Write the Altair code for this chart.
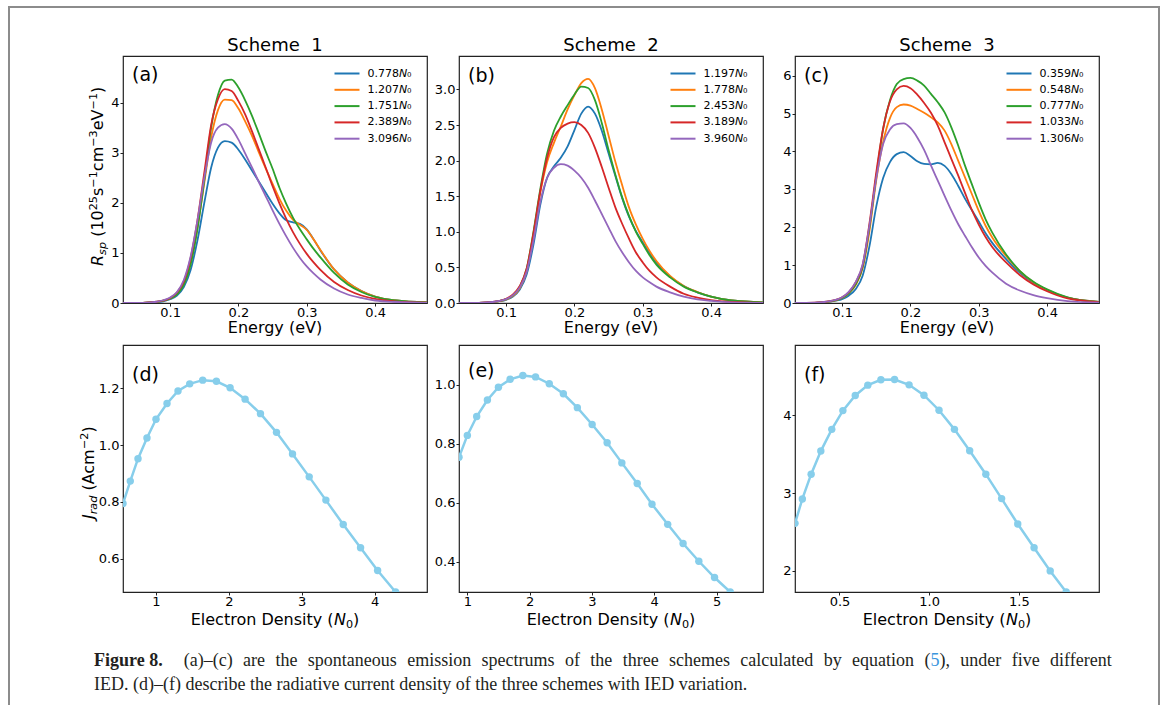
import altair as alt
import pandas as pd

FONT = "DejaVu Sans"
SERIF = "Liberation Serif"
COLORS = ["#1f77b4", "#ff7f0e", "#2ca02c", "#d62728", "#9467bd"]
SKY = "#87CEEB"
INK = "#000000"
FRAME = "#8c8c8c"
CAP_INK = "#231f20"
LINK = "#3a96dd"
W, H = 304, 247
NB = "\u00a0"

# ---------------- data: spontaneous emission spectra (a)-(c) ----------------
energy = [0.031, 0.06, 0.08, 0.09, 0.10, 0.11, 0.12, 0.13, 0.14, 0.15, 0.16, 0.17,
          0.18, 0.19, 0.20, 0.21, 0.22, 0.23, 0.24, 0.25, 0.26, 0.27, 0.28, 0.29,
          0.30, 0.31, 0.32, 0.34, 0.36, 0.38, 0.40, 0.43, 0.476]

a_labels = ["0.778", "1.207", "1.751", "2.389", "3.096"]
a_blue = [0, 0.003, 0.015, 0.035, 0.075, 0.15, 0.32, 0.66, 1.25, 2.0, 2.7, 3.1, 3.23, 3.2, 3.06, 2.86, 2.64, 2.42, 2.2, 1.98, 1.79, 1.65, 1.61, 1.58, 1.47, 1.27, 1.05, 0.67, 0.41, 0.24, 0.13, 0.05, 0.01]
a_orange = [0, 0.003, 0.02, 0.045, 0.09, 0.18, 0.38, 0.8, 1.5, 2.4, 3.3, 3.85, 4.06, 4.05, 3.88, 3.62, 3.33, 3.0, 2.68, 2.38, 2.08, 1.84, 1.66, 1.56, 1.46, 1.27, 1.06, 0.67, 0.41, 0.24, 0.13, 0.05, 0.01]
a_green = [0, 0.003, 0.02, 0.045, 0.09, 0.17, 0.36, 0.77, 1.48, 2.45, 3.5, 4.15, 4.44, 4.46, 4.3, 4.04, 3.73, 3.38, 3.02, 2.68, 2.3, 1.98, 1.7, 1.47, 1.27, 1.08, 0.91, 0.6, 0.37, 0.22, 0.12, 0.05, 0.01]
a_red = [0, 0.004, 0.025, 0.05, 0.1, 0.21, 0.43, 0.9, 1.65, 2.6, 3.55, 4.07, 4.27, 4.23, 4.03, 3.76, 3.42, 3.06, 2.7, 2.33, 1.99, 1.68, 1.41, 1.18, 0.98, 0.81, 0.66, 0.42, 0.26, 0.15, 0.08, 0.03, 0.005]
a_purple = [0, 0.004, 0.025, 0.055, 0.11, 0.22, 0.46, 0.93, 1.65, 2.5, 3.2, 3.5, 3.57, 3.48, 3.26, 2.98, 2.7, 2.41, 2.13, 1.85, 1.58, 1.33, 1.1, 0.9, 0.73, 0.59, 0.47, 0.29, 0.17, 0.1, 0.05, 0.02, 0.003]

b_labels = ["1.197", "1.778", "2.453", "3.189", "3.960"]
b_blue = [0, 0.002, 0.012, 0.025, 0.045, 0.09, 0.19, 0.4, 0.82, 1.38, 1.76, 1.92, 2.04, 2.2, 2.43, 2.66, 2.76, 2.66, 2.42, 2.1, 1.78, 1.47, 1.21, 1.01, 0.85, 0.7, 0.57, 0.37, 0.24, 0.15, 0.09, 0.035, 0.008]
b_orange = [0, 0.002, 0.012, 0.025, 0.05, 0.1, 0.21, 0.45, 0.95, 1.55, 1.98, 2.25, 2.48, 2.72, 2.92, 3.09, 3.15, 3.02, 2.72, 2.35, 1.98, 1.65, 1.34, 1.1, 0.9, 0.73, 0.59, 0.38, 0.24, 0.155, 0.09, 0.035, 0.008]
b_green = [0, 0.002, 0.013, 0.028, 0.055, 0.11, 0.23, 0.48, 1.0, 1.6, 2.1, 2.42, 2.62, 2.78, 2.93, 3.04, 3.02, 2.85, 2.53, 2.15, 1.8, 1.48, 1.22, 1.0, 0.83, 0.67, 0.54, 0.36, 0.23, 0.15, 0.09, 0.035, 0.008]
b_red = [0, 0.002, 0.014, 0.03, 0.06, 0.12, 0.24, 0.48, 0.98, 1.57, 2.04, 2.33, 2.46, 2.52, 2.54, 2.5, 2.39, 2.18, 1.91, 1.62, 1.34, 1.11, 0.9, 0.71, 0.57, 0.45, 0.36, 0.23, 0.13, 0.075, 0.04, 0.015, 0.003]
b_purple = [0, 0.002, 0.014, 0.03, 0.055, 0.11, 0.22, 0.44, 0.88, 1.42, 1.76, 1.9, 1.95, 1.93, 1.86, 1.76, 1.62, 1.44, 1.25, 1.06, 0.87, 0.71, 0.57, 0.45, 0.36, 0.29, 0.23, 0.15, 0.09, 0.05, 0.03, 0.01, 0.002]

c_labels = ["0.359", "0.548", "0.777", "1.033", "1.306"]
c_blue = [0, 0.005, 0.03, 0.06, 0.1, 0.2, 0.37, 0.72, 1.5, 2.55, 3.3, 3.72, 3.93, 3.98, 3.88, 3.74, 3.67, 3.66, 3.7, 3.62, 3.4, 3.09, 2.75, 2.45, 2.15, 1.84, 1.58, 1.16, 0.8, 0.53, 0.34, 0.14, 0.03]
c_orange = [0, 0.005, 0.035, 0.07, 0.13, 0.26, 0.48, 0.92, 1.9, 3.25, 4.25, 4.88, 5.17, 5.24, 5.21, 5.12, 5.02, 4.9, 4.77, 4.55, 4.19, 3.75, 3.31, 2.87, 2.43, 2.04, 1.72, 1.24, 0.84, 0.55, 0.35, 0.14, 0.03]
c_green = [0, 0.005, 0.035, 0.07, 0.13, 0.26, 0.5, 0.95, 2.0, 3.35, 4.6, 5.35, 5.78, 5.91, 5.94, 5.87, 5.74, 5.52, 5.3, 5.03, 4.63, 4.15, 3.62, 3.13, 2.65, 2.21, 1.85, 1.28, 0.85, 0.56, 0.36, 0.15, 0.03]
c_red = [0, 0.006, 0.04, 0.08, 0.15, 0.29, 0.55, 1.0, 2.1, 3.45, 4.6, 5.32, 5.64, 5.73, 5.67, 5.5, 5.28, 5.02, 4.68, 4.24, 3.8, 3.36, 2.9, 2.45, 2.07, 1.74, 1.47, 1.07, 0.74, 0.49, 0.31, 0.12, 0.025]
c_purple = [0, 0.006, 0.04, 0.08, 0.15, 0.3, 0.56, 1.02, 2.05, 3.3, 4.2, 4.58, 4.72, 4.74, 4.62, 4.37, 4.04, 3.63, 3.23, 2.83, 2.44, 2.08, 1.77, 1.47, 1.2, 0.98, 0.8, 0.51, 0.33, 0.21, 0.13, 0.05, 0.01]

# ---------------- data: radiative current density (d)-(f) ----------------
d_density = [0.547, 0.647, 0.753, 0.876, 1.0, 1.151, 1.302, 1.463, 1.641, 1.829, 2.017, 2.223, 2.434, 2.654, 2.874, 3.103, 3.332, 3.570, 3.808, 4.042, 4.289]
d_jrad = [0.794, 0.873, 0.952, 1.025, 1.091, 1.147, 1.191, 1.216, 1.229, 1.225, 1.202, 1.162, 1.111, 1.045, 0.969, 0.888, 0.806, 0.720, 0.638, 0.558, 0.482]
e_density = [0.866, 1.0, 1.150, 1.322, 1.499, 1.687, 1.891, 2.095, 2.315, 2.541, 2.766, 3.003, 3.244, 3.480, 3.727, 3.964, 4.216, 4.463, 4.716, 4.968, 5.220]
e_jrad = [0.754, 0.828, 0.892, 0.948, 0.991, 1.018, 1.031, 1.026, 1.003, 0.969, 0.922, 0.865, 0.803, 0.735, 0.665, 0.595, 0.527, 0.462, 0.402, 0.347, 0.298]
f_density = [0.252, 0.293, 0.342, 0.396, 0.457, 0.519, 0.588, 0.658, 0.731, 0.807, 0.888, 0.971, 1.055, 1.141, 1.226, 1.316, 1.404, 1.494, 1.585, 1.675, 1.764]
f_jrad = [2.611, 2.925, 3.243, 3.540, 3.819, 4.060, 4.254, 4.387, 4.456, 4.460, 4.391, 4.258, 4.065, 3.819, 3.544, 3.243, 2.929, 2.602, 2.297, 2.0, 1.729]

# ---------------- text metrics (em widths) for hand-placed rich text ----------------
DV = {" ": .318, "(": .390, ")": .390, "−": .838, "A": .684, "D": .770, "E": .632,
      "J": .295, "N": .748, "R": .695, "V": .684, "a": .613, "c": .550, "d": .635,
      "e": .615, "i": .278, "l": .278, "m": .974, "n": .634, "o": .612, "p": .635,
      "r": .411, "s": .521, "t": .392, "y": .592}
for ch in "0123456789":
    DV[ch] = .636

TR = {" ": .250, "(": .333, ")": .333, ",": .250, ".": .250, "–": .500,
      "a": .444, "b": .500, "c": .444, "d": .500, "e": .444, "f": .333, "g": .500,
      "h": .500, "i": .278, "l": .278, "m": .778, "n": .500, "o": .500, "p": .500,
      "q": .500, "r": .333, "s": .389, "t": .278, "u": .500, "v": .500, "w": .722,
      "y": .500, "D": .722, "E": .611, "F": .556, "I": .333}
for ch in "0123456789":
    TR[ch] = .500
TB = dict(TR)
TB.update({"F": .611, "u": .556, "r": .444})


def width(s, size, table):
    return sum(table.get(ch, 0.55) for ch in s) * size


ONE = pd.DataFrame({"k": [0]})


def text_layer(s, x, y, size, font=FONT, align="left", baseline="alphabetic",
               angle=0, style="normal", weight="normal", color=INK):
    props = dict(text=s, fontSize=size, font=font, align=align, baseline=baseline,
                 fontStyle=style, fontWeight=weight, color=color)
    if angle:
        props["angle"] = angle
    return alt.Chart(ONE).mark_text(**props).encode(x=alt.value(x), y=alt.value(y))


def rotated_pieces(pieces, x0, y0):
    out, y = [], y0
    for s, size, style, shift in pieces:
        lead = len(s) - len(s.lstrip(" "))
        y -= lead * DV[" "] * size
        s = s.lstrip(" ")
        out.append(text_layer(s, x0 + shift, y, size, style=style, angle=270))
        y -= width(s, size, DV)
    return out


def centered_pieces(pieces, xc, y0):
    total = sum(width(s, size, DV) for s, size, _, _ in pieces)
    out, x = [], xc - total / 2
    for s, size, style, shift in pieces:
        out.append(text_layer(s, x, y0 + shift, size, style=style))
        x += width(s, size, DV)
    return out


def rule_layer(x, x2, y, y2):
    return alt.Chart(ONE).mark_rule(color=FRAME, strokeWidth=2).encode(
        x=alt.value(x), x2=alt.value(x2), y=alt.value(y), y2=alt.value(y2))


SUB = 11.2


def x_axis(values, fmt):
    return alt.Axis(values=values, format=fmt, title=None, labelPadding=10,
                    labelBaseline="alphabetic")


def y_axis(values, fmt):
    return alt.Axis(values=values, format=fmt, title=None, labelPadding=1)


# ---------------- panels ----------------
def spectrum_panel(labels, series, ydom, yvals, yfmt, tag, tag_y):
    names = [lab + "\U0001D615\u2080" for lab in labels]
    rows = []
    for name, vals in zip(names, series):
        for e, v in zip(energy, vals):
            rows.append({"E": e, "R": v, "series": name})
    df = pd.DataFrame(rows)
    lines = alt.Chart(df).mark_line(strokeWidth=1.8, clip=True, interpolate="monotone").encode(
        x=alt.X("E:Q", scale=alt.Scale(domain=[0.031, 0.476], nice=False, zero=False),
                axis=x_axis([0.1, 0.2, 0.3, 0.4], ".1f")),
        y=alt.Y("R:Q", scale=alt.Scale(domain=ydom, nice=False, zero=False),
                axis=y_axis(yvals, yfmt)),
        color=alt.Color("series:N", sort=names,
                        scale=alt.Scale(domain=names, range=COLORS),
                        legend=alt.Legend(orient="none", legendX=218, legendY=11.5, title=None,
                                          symbolType="M-2.5,0H2.5", symbolSize=100,
                                          symbolStrokeWidth=2, labelFont=FONT, labelFontSize=11,
                                          labelOffset=14.5, rowPadding=5.3, padding=0,
                                          labelColor=INK, labelLimit=300)),
    )
    return [lines,
            text_layer(tag, 9, tag_y, 19, baseline="middle"),
            text_layer("Energy (eV)", W / 2, 277, 16, align="center")]


def jrad_panel(xs, ys, xdom, ydom, xvals, yvals, xfmt, yfmt, tag, tag_y):
    df = pd.DataFrame({"N": xs, "J": ys})
    base = alt.Chart(df).encode(
        x=alt.X("N:Q", scale=alt.Scale(domain=xdom, nice=False, zero=False),
                axis=x_axis(xvals, xfmt)),
        y=alt.Y("J:Q", scale=alt.Scale(domain=ydom, nice=False, zero=False),
                axis=y_axis(yvals, yfmt)),
    )
    line = base.mark_line(color=SKY, strokeWidth=2.5, clip=True)
    pts = base.mark_circle(color=SKY, size=55, opacity=1, clip=True)
    xt = centered_pieces([("Electron Density (", 16, "normal", 0), ("N", 16, "italic", 0),
                          ("0", SUB, "normal", 3), (")", 16, "normal", 0)], W / 2, 280)
    return [line, pts, text_layer(tag, 9, tag_y, 19, baseline="middle")] + xt


def make_title(t):
    return alt.TitleParams(t, font=FONT, fontSize=18, fontWeight="normal", color=INK,
                           anchor="middle", offset=4.5, baseline="alphabetic", dy=17)


# (a)
la = spectrum_panel(a_labels, [a_blue, a_orange, a_green, a_red, a_purple],
                    [0, 4.93], [0, 1, 2, 3, 4], "d", "(a)", 18.5)
la += rotated_pieces([("R", 16, "italic", 0), ("sp", SUB, "italic", 3),
                      (" (10", 16, "normal", 0), ("25", SUB, "normal", -6),
                      ("s", 16, "normal", 0), ("−1", SUB, "normal", -6),
                      ("cm", 16, "normal", 0), ("−3", SUB, "normal", -6),
                      ("eV", 16, "normal", 0), ("−1", SUB, "normal", -6),
                      (")", 16, "normal", 0)], -20, 210)
panel_a = alt.layer(*la).properties(width=W, height=H, title=make_title("Scheme" + NB + NB + "1"))

lb = spectrum_panel(b_labels, [b_blue, b_orange, b_green, b_red, b_purple],
                    [0, 3.47], [0, 0.5, 1.0, 1.5, 2.0, 2.5, 3.0], ".1f", "(b)", 20)
panel_b = alt.layer(*lb).properties(width=W, height=H, title=make_title("Scheme" + NB + NB + "2"))

lc = spectrum_panel(c_labels, [c_blue, c_orange, c_green, c_red, c_purple],
                    [0, 6.52], [0, 1, 2, 3, 4, 5, 6], "d", "(c)", 20)
panel_c = alt.layer(*lc).properties(width=W, height=H, title=make_title("Scheme" + NB + NB + "3"))

# (d) -- also carries the figure frame and caption (decoration, pixels relative to (d))
ld = jrad_panel(d_density, d_jrad, [0.547, 4.72], [0.482, 1.353], [1, 2, 3, 4],
                [0.6, 0.8, 1.0, 1.2], "d", ".1f", "(d)", 30)
ld += rotated_pieces([("J", 16, "italic", 0), ("rad", SUB, "italic", 3),
                      (" (Acm", 16, "normal", 0), ("−2", SUB, "normal", -6),
                      (")", 16, "normal", 0)], -29, 174)

ld += [rule_layer(-114, -114, -338, 360), rule_layer(1036, 1036, -338, 360),
       rule_layer(-115, 1037, -338, -338)]

CAP_X0, CAP_X1, CAP_Y1, CAP_Y2, CAP_SIZE = -29, 989, 321, 345, 18
line1 = [[("Figure 8.", "bold", CAP_INK)], [("(a)–(c)", "normal", CAP_INK)],
         [("are", "normal", CAP_INK)], [("the", "normal", CAP_INK)],
         [("spontaneous", "normal", CAP_INK)], [("emission", "normal", CAP_INK)],
         [("spectrums", "normal", CAP_INK)], [("of", "normal", CAP_INK)],
         [("the", "normal", CAP_INK)], [("three", "normal", CAP_INK)],
         [("schemes", "normal", CAP_INK)], [("calculated", "normal", CAP_INK)],
         [("by", "normal", CAP_INK)], [("equation", "normal", CAP_INK)],
         [("(", "normal", CAP_INK), ("5", "normal", LINK), ("),", "normal", CAP_INK)],
         [("under", "normal", CAP_INK)], [("five", "normal", CAP_INK)],
         [("different", "normal", CAP_INK)]]
gap_weights = [2.0] + [1.0] * (len(line1) - 2)


def seg_w(seg):
    s, wgt, _ = seg
    return width(s, CAP_SIZE, TB if wgt == "bold" else TR)


natural = sum(seg_w(sg) for word in line1 for sg in word)
gap = (CAP_X1 - CAP_X0 - natural) / sum(gap_weights)
cx = CAP_X0
for i, word in enumerate(line1):
    for s, wgt, col in word:
        ld.append(text_layer(s, cx, CAP_Y1, CAP_SIZE, font=SERIF, weight=wgt, color=col))
        cx += width(s, CAP_SIZE, TB if wgt == "bold" else TR)
    if i < len(gap_weights):
        cx += gap * gap_weights[i]
ld.append(text_layer("IED. (d)–(f) describe the radiative current density of the three "
                     "schemes with IED variation.", CAP_X0, CAP_Y2, CAP_SIZE, font=SERIF,
                     color=CAP_INK))
panel_d = alt.layer(*ld).properties(width=W, height=H)

le = jrad_panel(e_density, e_jrad, [0.866, 5.746], [0.298, 1.134], [1, 2, 3, 4, 5],
                [0.4, 0.6, 0.8, 1.0], "d", ".1f", "(e)", 25.5)
panel_e = alt.layer(*le).properties(width=W, height=H)

lf = jrad_panel(f_density, f_jrad, [0.252, 1.947], [1.729, 4.903], [0.5, 1.0, 1.5],
                [2, 3, 4], ".1f", "d", "(f)", 30)
panel_f = alt.layer(*lf).properties(width=W, height=H)

chart = alt.concat(
    panel_a, panel_b, panel_c, panel_d, panel_e, panel_f,
    columns=3, spacing={"row": 42, "column": 32}, bounds="flush",
).resolve_scale(
    x="independent", y="independent", color="independent"
).properties(
    padding={"left": 6, "top": 5, "right": 0, "bottom": 0},
    autosize=alt.AutoSizeParams(type="pad"),
    background="white",
).configure_view(
    stroke="#222222", strokeWidth=1.2
).configure_axis(
    labelFont=FONT, labelFontSize=13, labelColor=INK, tickColor="#222222",
    tickSize=3, tickWidth=1, domain=False, grid=False
).configure_title(font=FONT)

chart.save("out.html", embed_options={"renderer": "svg", "actions": False})
